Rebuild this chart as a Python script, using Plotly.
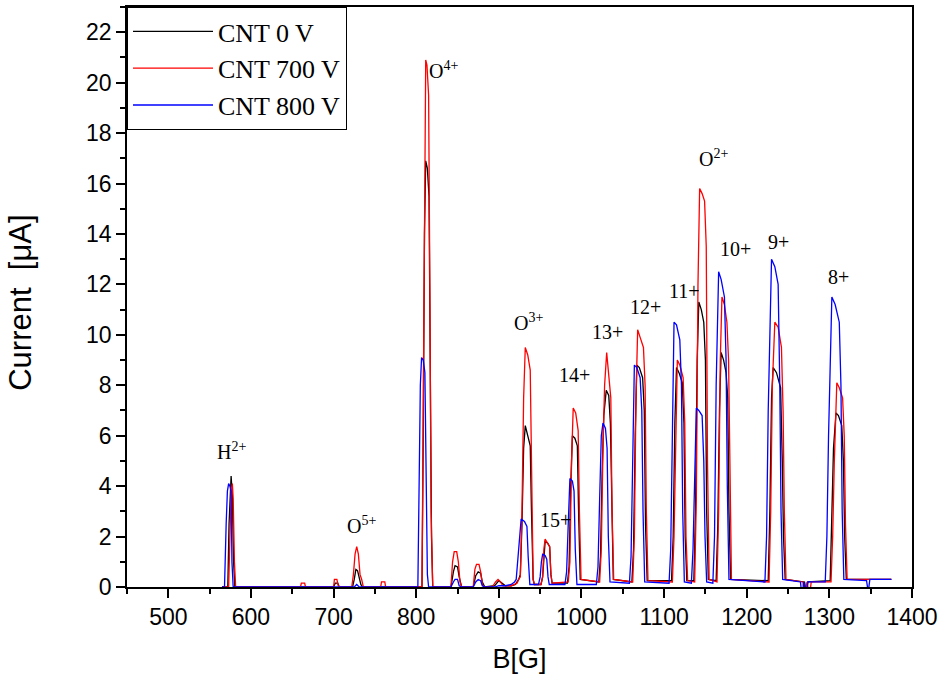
import plotly.graph_objects as go

# ---------------- data ----------------
b_0v = [565, 572, 573.5, 575, 576, 577.5, 579, 580.5,
        700, 702, 705, 707,
        723, 725, 727, 729, 731, 733, 735,
        807, 808.5, 810, 811.5, 813.5, 815.5, 817, 818.5, 820,
        842, 845, 847, 850, 852, 855,
        869, 872, 875, 878, 880, 883,
        895, 900, 904, 908, 915, 920, 924,
        926, 928, 930, 932, 935, 938, 939.5, 941.5, 943,
        951, 953, 954.5, 956, 959, 961.5, 963, 964.5,
        983, 985, 987, 989, 992, 995, 996.5, 998.5,
        1021, 1023, 1025, 1027, 1030, 1033, 1035, 1036.5, 1038.5,
        1061, 1063, 1065, 1067, 1070, 1074, 1076, 1077.5, 1079.5,
        1109, 1111, 1113, 1115, 1118, 1122, 1124, 1125.5, 1127.5,
        1136, 1138, 1140, 1142, 1145, 1148, 1150, 1151.5, 1153.5,
        1163, 1165, 1167, 1169, 1172, 1175, 1177, 1178.5, 1180.5,
        1226, 1228, 1230, 1232, 1236, 1241, 1243, 1244.5, 1246.5,
        1270, 1272, 1274,
        1301, 1303, 1305, 1308, 1311, 1315, 1317, 1318.5, 1320.5, 1375]
i_0v = [0, 0, 2.5, 4.0, 4.4, 3.6, 1.0, 0,
        0, 0.15, 0.15, 0,
        0, 0.3, 0.7, 0.65, 0.3, 0.1, 0,
        0, 6, 14, 16.9, 16.6, 15.5, 9, 2, 0,
        0, 0.6, 0.85, 0.8, 0.4, 0,
        0, 0.45, 0.6, 0.55, 0.2, 0,
        0.05, 0.25, 0.15, 0.05, 0.05, 0.1, 0.3,
        0.5, 2.5, 5.5, 6.4, 6.0, 5.6, 3.0, 0.3, 0.1,
        0.1, 0.4, 1.4, 1.8, 1.75, 1.6, 0.5, 0.15,
        0.15, 0.8, 4.0, 6.0, 5.9, 5.6, 3.0, 0.3,
        0.2, 1.2, 4.5, 6.8, 7.8, 7.6, 6.5, 3.0, 0.3,
        0.2, 1.5, 6.0, 8.8, 8.7, 8.3, 7.0, 2.5, 0.25,
        0.25, 2.0, 6.5, 8.7, 8.5, 8.1, 6.5, 2.0, 0.25,
        0.25, 3.0, 9.0, 11.3, 11.0, 10.5, 9.0, 3.0, 0.3,
        0.25, 2.5, 7.0, 9.3, 9.0, 8.5, 7.5, 3.0, 0.3,
        0.25, 3.0, 7.5, 8.7, 8.5, 7.9, 5.0, 2.0, 0.3,
        0.2, -0.2, 0.2,
        0.25, 2.5, 5.5, 6.9, 6.8, 6.4, 5.0, 2.0, 0.3, 0.3]

b_700v = [565, 573, 575, 576, 577.5, 578.5, 580, 581.5,
          660, 661, 665, 666,
          700, 701, 704, 706,
          722, 724, 726, 728, 730, 732, 734, 736,
          757, 758, 762, 763,
          807, 808.5, 810, 811.5, 813, 815, 816.5, 818, 820,
          842, 844, 846, 849, 851, 853, 855,
          869, 871, 873, 876, 878, 880, 882,
          892, 896, 899, 902, 905, 915, 922, 924,
          926, 928, 930, 932, 935, 938, 939.5, 941.5, 943,
          951, 953, 954.5, 956, 959, 961.5, 963, 964.5,
          984, 986, 988, 990, 993, 996, 997.5, 999.5,
          1022, 1024, 1026, 1028, 1030.5, 1033, 1035.5, 1037, 1039,
          1062, 1064, 1066, 1068, 1071, 1075, 1077, 1078.5, 1080.5,
          1110, 1112, 1114, 1116, 1119, 1123, 1125, 1126.5, 1128.5,
          1137, 1139, 1141, 1143, 1146, 1149, 1151, 1152.5, 1154.5,
          1164, 1166, 1168, 1170, 1173, 1176, 1178, 1179.5, 1181.5,
          1227, 1229, 1231, 1234, 1238, 1242, 1244, 1245.5, 1247.5,
          1268, 1270, 1273, 1276, 1278,
          1302, 1304, 1306, 1309, 1312, 1316, 1318, 1319.5, 1321.5, 1375]
i_700v = [0, 0, 2.5, 3.8, 4.1, 3.5, 1.0, 0,
          0, 0.15, 0.15, 0,
          0, 0.3, 0.3, 0,
          0, 0.5, 1.3, 1.6, 1.3, 0.5, 0.3, 0,
          0, 0.2, 0.2, 0,
          0, 8, 17, 20.9, 20.7, 19.5, 12, 3, 0,
          0, 1.0, 1.4, 1.4, 1.0, 0.2, 0,
          0, 0.7, 0.9, 0.9, 0.6, 0.1, 0,
          0, 0.2, 0.3, 0.2, 0.05, 0.05, 0.15, 0.3,
          0.4, 3.0, 7.5, 9.5, 9.2, 8.6, 4.0, 0.3, 0.1,
          0.1, 0.4, 1.5, 1.9, 1.75, 1.6, 0.5, 0.15,
          0.2, 1.0, 5.0, 7.1, 6.9, 6.2, 3.0, 0.3,
          0.2, 1.5, 5.5, 8.0, 9.3, 8.5, 7.5, 3.0, 0.3,
          0.2, 2.0, 7.5, 10.2, 9.9, 9.5, 8.0, 3.0, 0.25,
          0.2, 2.0, 6.5, 9.0, 8.8, 8.3, 6.5, 2.0, 0.25,
          0.2, 3.5, 12.0, 15.8, 15.6, 15.3, 13.5, 5.0, 0.3,
          0.2, 3.0, 9.0, 11.5, 11.2, 10.5, 9.0, 4.0, 0.3,
          0.2, 3.0, 8.0, 10.5, 10.3, 9.5, 7.0, 3.0, 0.3,
          0.2, -0.3, 0.2, -0.4, 0.2,
          0.2, 2.0, 5.0, 8.1, 7.9, 7.5, 6.0, 2.5, 0.3, 0.3]

b_800v = [565, 568, 570, 571.5, 573, 574.5, 576, 577, 578.5,
          725, 728, 731,
          802, 803.5, 805, 806.5, 808.5, 810.5, 812, 813.5, 815,
          842, 845, 847, 850, 852, 855,
          869, 872, 875, 878, 880, 883,
          895, 900, 908, 915, 919,
          921, 923, 925, 927, 931, 934, 935.5, 937.5,
          948, 950, 951.5, 953, 956, 958, 959.5, 961,
          980, 982, 984, 986, 989, 991, 992.5, 994.5,
          1018, 1020, 1022, 1024, 1026, 1029, 1031, 1032.5, 1034.5,
          1058, 1060, 1062, 1064, 1067, 1071, 1073, 1074.5, 1076.5,
          1106, 1108, 1110, 1112, 1115, 1119, 1121, 1122.5, 1124.5,
          1133, 1135, 1137, 1139, 1142, 1146, 1148, 1149.5, 1151.5,
          1159, 1161, 1163, 1166, 1169, 1173, 1175, 1176.5, 1178.5,
          1222, 1224, 1226, 1230, 1234, 1238, 1240, 1241.5, 1243.5,
          1265, 1267, 1269, 1272, 1274,
          1295, 1297, 1299, 1303, 1307, 1312, 1314, 1315.5, 1317.5,
          1345, 1347, 1349, 1375]
i_800v = [0, 0, 2.5, 3.8, 4.1, 4.0, 3.8, 1.0, 0,
          0, 0.1, 0,
          0, 4.0, 8.0, 9.1, 9.0, 8.5, 4.0, 0.5, 0,
          0, 0.2, 0.3, 0.3, 0.05, 0,
          0, 0.2, 0.3, 0.25, 0.05, 0,
          0, 0.05, 0.05, 0.1, 0.2,
          0.3, 1.0, 2.0, 2.7, 2.6, 2.4, 1.2, 0.1,
          0.1, 0.4, 1.0, 1.3, 1.25, 1.1, 0.4, 0.1,
          0.1, 0.6, 2.5, 4.3, 4.2, 3.8, 1.5, 0.1,
          0.1, 0.8, 3.5, 6.0, 6.5, 6.3, 5.5, 2.0, 0.2,
          0.15, 1.2, 6.0, 8.8, 8.7, 8.3, 7.0, 3.0, 0.2,
          0.15, 1.5, 7.0, 10.5, 10.4, 9.8, 8.0, 3.0, 0.2,
          0.15, 1.5, 5.0, 7.1, 7.0, 6.8, 5.0, 2.0, 0.2,
          0.15, 2.0, 8.0, 12.5, 12.2, 11.5, 9.0, 4.0, 0.3,
          0.2, 2.0, 7.0, 13.0, 12.7, 12.0, 8.0, 3.0, 0.3,
          0.2, -0.4, 0.2, -0.3, 0.2,
          0.2, 2.0, 6.0, 11.5, 11.2, 10.5, 8.0, 3.0, 0.3,
          0.25, -0.2, 0.3, 0.3]

series_names = ["CNT 0 V", "CNT 700 V", "CNT 800 V"]
series_colors = ["#000000", "#ff0000", "#0000ff"]

label_text = ["H<sup>2+</sup>", "O<sup>5+</sup>", "O<sup>4+</sup>", "O<sup>3+</sup>",
              "15+", "14+", "13+", "12+", "11+", "O<sup>2+</sup>", "10+", "9+", "8+"]
label_b = [576, 734, 833, 936, 968, 992, 1032, 1077, 1125, 1160, 1186, 1238, 1311]
label_i = [5.4, 2.45, 20.5, 10.5, 2.65, 8.4, 10.1, 11.1, 11.75, 17.0, 13.4, 13.7, 12.3]

# ---------------- figure ----------------
fig = go.Figure()
for xs, ys, name, col in zip([b_0v, b_700v, b_800v], [i_0v, i_700v, i_800v],
                             series_names, series_colors):
    fig.add_trace(go.Scatter(x=xs, y=ys, mode="lines", name=name,
                             line=dict(color=col, width=1.3)))

for t, bx, iy in zip(label_text, label_b, label_i):
    fig.add_annotation(x=bx, y=iy, text=t, showarrow=False,
                       font=dict(family="Liberation Serif", size=20, color="black"))

# y-axis title placed as rotated annotation (centred like the reference)
fig.add_annotation(xref="paper", yref="paper", x=-0.135, y=0.49, xanchor="center", yanchor="middle",
                   text="Current  [μA]", textangle=-90, showarrow=False,
                   font=dict(family="Liberation Sans", size=31, color="black"))

axis_common = dict(showline=True, linecolor="black", linewidth=1.5, mirror=True,
                   ticks="outside", tickcolor="black", tickwidth=1.5, ticklen=9,
                   showgrid=False, zeroline=False,
                   tickfont=dict(family="Liberation Sans", size=23, color="black"))

fig.update_layout(
    width=945, height=684,
    margin=dict(l=127, r=33, t=5, b=97),
    plot_bgcolor="white", paper_bgcolor="white",
    showlegend=True,
    legend=dict(x=0, y=1, xanchor="left", yanchor="top",
                bordercolor="black", borderwidth=1, bgcolor="white",
                font=dict(family="Liberation Serif", size=26, color="black"),
                itemwidth=80, tracegroupgap=0),
    xaxis=dict(range=[450, 1400], dtick=100, tick0=400,
               minor=dict(dtick=50, ticks="outside", ticklen=5, tickcolor="black", tickwidth=1.5),
               title=dict(text="B[G]", font=dict(family="Liberation Sans", size=27, color="black"),
                          standoff=20),
               **axis_common),
    yaxis=dict(range=[0, 23], dtick=2, tick0=0,
               minor=dict(dtick=1, ticks="outside", ticklen=5, tickcolor="black", tickwidth=1.5),
               **axis_common),
)

fig.write_html("out.html")
